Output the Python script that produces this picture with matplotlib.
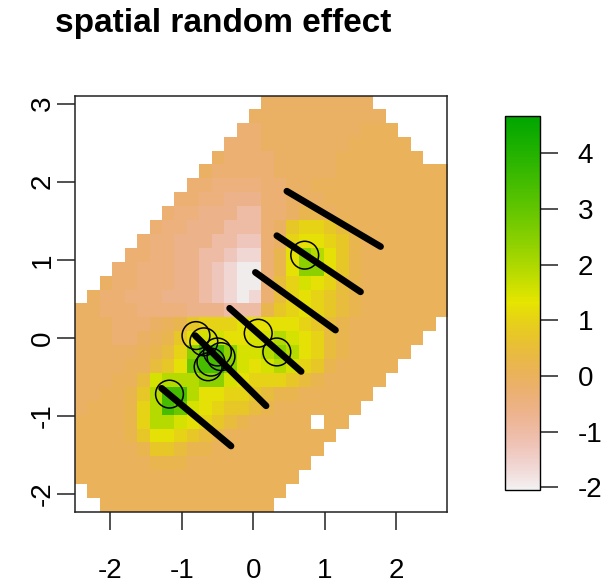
import numpy as np
import matplotlib
matplotlib.use('Agg')
import matplotlib.pyplot as plt
from matplotlib.colors import ListedColormap, hsv_to_rgb

plt.rcParams['font.family'] = ['Liberation Sans', 'DejaVu Sans']
plt.rcParams['axes.unicode_minus'] = False

# grid extent of the projected field
x_range = (-2.49, 2.71)
y_range = (-2.23, 3.10)
z_range = (-2.05, 4.67)

# value codes used in the field map ('.' = outside the mesh)
levels = {
    'w': -1.95, 'v': -1.65, 'u': -1.3, 't': -1.0, 's': -0.65, 'r': -0.45,
    'q': -0.3, 'p': -0.12, 'o': 0.0,
    'a': 0.2, 'b': 0.45, 'c': 0.75, 'd': 1.0, 'e': 1.25, 'f': 1.5,
    'g': 1.9, 'h': 2.4, 'i': 2.9, 'j': 3.4, 'k': 3.9,
}

# 30 x 30 field, top row first
field_rows = [
    "...............ppppppppp......",
    "..............ppppppppppp.....",
    ".............qqppppppppooo....",
    "............qqqpppppppooooo...",
    "...........pqqqqpppppooooooo..",
    "..........pqqqqqpppppooooooooo",
    ".........qqrrrrqqppooooooooooo",
    "........qqrrsssqqpppoooooooooo",
    ".......qrrssstt" + "qqpaap" + "ooooooooo",
    "......qrrssstttqp" + "cddcb" + "oooooooo",
    ".....qrrsssttuuqp" + "deedca" + "ooooooo",
    "....qqrrssttuvvqa" + "ehgeca" + "ooooooo",
    "...qqrrrsstuvwwqa" + "ehheca" + "ooooooo",
    "..pqqrrrsstuvwwqb" + "dfedba" + "ooooooo",
    ".pqqrrrssstuvwvqb" + "dedcba" + "ooooooo",
    "ppqqqrrrrssstttacdedcba" + "ooooooo",
    "pppqqqpoacdddeeeeedcba" + "ooooooo.",
    "pppqqpoaceffeeffgfedba" + "oooooo..",
    "pppppoabdhjjhffghgedba" + "ooooo...",
    "ppppoobceijjhfefgfdca" + "ooooo....",
    "pppoobfggghhfedddcba" + "ooooo.....",
    "ppooacgjjgeeddcbaa" + "oooooo......",
    "poooadgjifedccba" + "ooooooo.......",
    "ooooadggfedcba" + "ooooo.oo........",
    "ooooaceedcba" + "ooooooooo.........",
    "oooooaccbaa" + "ooooooooo..........",
    "ooooooaaaoooooooooo...........",
    "oooooooooooooooooo............",
    ".oooooooooooooooo.............",
    "..oooooooooooooo..............",
]

# transect segments
seg_x0 = [0.47, 0.33, 0.03, -0.33, -0.81, -1.28]
seg_y0 = [1.88, 1.31, 0.84, 0.38, 0.03, -0.645]
seg_x1 = [1.78, 1.50, 1.15, 0.67, 0.18, -0.31]
seg_y1 = [1.17, 0.59, 0.10, -0.43, -0.87, -1.385]

# observation locations
pt_x = [-1.17, -0.80, -0.69, -0.50, -0.45, -0.59, -0.63, 0.07, 0.33, 0.72]
pt_y = [-0.72, 0.03, -0.05, -0.18, -0.24, -0.31, -0.37, 0.06, -0.18, 1.06]

colorbar_ticks = [-2, -1, 0, 1, 2, 3, 4]


def terrain_colors(n):
    k = n // 2
    h = np.r_[np.linspace(4/12, 2/12, k), np.linspace(2/12, 0, n - k + 1)[1:]]
    s = np.r_[np.ones(k), np.linspace(1, 0, n - k + 1)[1:]]
    v = np.r_[np.linspace(0.65, 0.9, k), np.linspace(0.9, 0.95, n - k + 1)[1:]]
    return hsv_to_rgb(np.column_stack([h, s, v]))


cmap = ListedColormap(terrain_colors(256)[::-1])
cmap.set_bad('white')

field = np.array([[levels.get(ch, np.nan) for ch in row] for row in field_rows])
field = np.ma.masked_invalid(field)

fig = plt.figure(figsize=(6.1, 5.86), dpi=100)
ax = fig.add_axes([0.123, 0.1263, 0.610, 0.710])
im = ax.imshow(field, cmap=cmap, vmin=z_range[0], vmax=z_range[1],
               extent=[x_range[0], x_range[1], y_range[0], y_range[1]],
               origin='upper', interpolation='nearest', aspect='auto')

for xa, ya, xb, yb in zip(seg_x0, seg_y0, seg_x1, seg_y1):
    ax.plot([xa, xb], [ya, yb], color='black', lw=4.8, solid_capstyle='round', zorder=3)

ax.scatter(pt_x, pt_y, s=400, facecolors='none', edgecolors='black', linewidths=1.1, zorder=4)

ax.set_xlim(*x_range)
ax.set_ylim(*y_range)
ax.set_xticks([-2, -1, 0, 1, 2])
ax.set_yticks([-2, -1, 0, 1, 2, 3])
ax.tick_params(axis='both', length=13, width=1.1, labelsize=20, color='#222222')
ax.tick_params(axis='x', pad=20)
ax.tick_params(axis='y', pad=1)
for lab in ax.get_yticklabels():
    lab.set_rotation(90)
    lab.set_va('center')
for sp in ax.spines.values():
    sp.set_linewidth(1.1)
    sp.set_color('#222222')

fig.text(223 / 610, 1 - 32 / 586, "spatial random effect", ha='center', va='baseline',
         fontsize=24, fontweight='bold')

cax = fig.add_axes([0.828, 0.1638, 0.0574, 0.6382])
cb = fig.colorbar(im, cax=cax)
cb.set_ticks(colorbar_ticks)
cb.outline.set_linewidth(1.0)
cax.tick_params(length=13, width=1.1, labelsize=20, pad=14, color='#222222')

fig.savefig('out.png', dpi=100)
